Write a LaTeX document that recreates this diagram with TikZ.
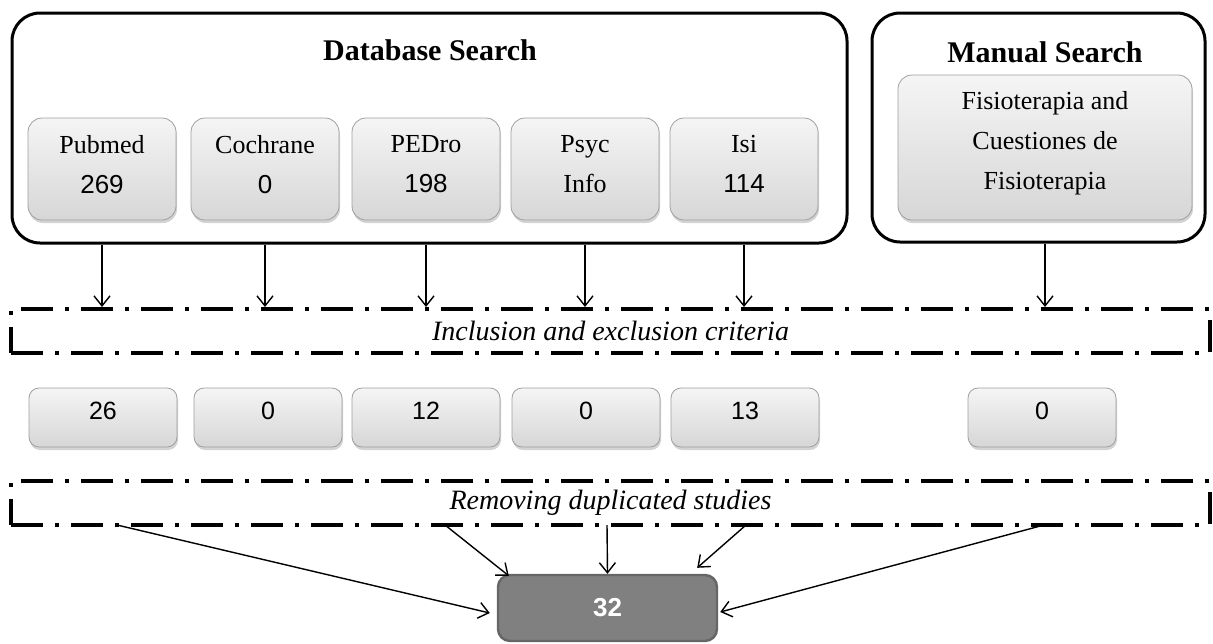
\documentclass[tikz,border=0pt]{standalone}
\usepackage{fontspec}
\setmainfont{Liberation Serif}
\setsansfont{Liberation Sans}
\usetikzlibrary{arrows.meta,shadows}

\begin{document}
\begin{tikzpicture}[x=0.5pt,y=-0.5pt,
srchbox/.style={draw, line width=1.5pt, rounded corners=14pt},
dbbox/.style={draw=gray!75, rounded corners=7pt, top color=gray!8, bottom color=gray!32,
  drop shadow={opacity=0.35,shadow xshift=0.5pt,shadow yshift=-1.5pt},
  minimum width=74pt, align=center, text depth=5pt, font=\fontsize{13}{20}\selectfont},
cntbox/.style={dbbox, rounded corners=5pt, minimum height=29.5pt, text depth=7pt, font=\sffamily\fontsize{12.5}{15}\selectfont},
critbox/.style={draw, line width=2pt, dash pattern=on 16pt off 6pt on 2pt off 6pt,
  minimum width=599.5pt, minimum height=22pt, font=\itshape\fontsize{14}{16}\selectfont},
flow/.style={-{Straight Barb[length=5pt,width=8pt]}, line width=0.7pt}
]
\useasboundingbox (0,0) rectangle (1213,643);

\node[srchbox, minimum width=417.5pt, minimum height=115pt] (db) at (429.5,128) {};
\node[font=\bfseries\fontsize{15}{18}\selectfont] (dbt) at (430,50) {Database Search};
\node[srchbox, minimum width=166.5pt, minimum height=114.5pt] (ms) at (1038.5,127.5) {};
\node[font=\bfseries\fontsize{15}{18}\selectfont] (mst) at (1045,52) {Manual Search};

\foreach \n/\x/\lbl in {pub/102/{Pubmed\\\sffamily 269}, coc/265/{Cochrane\\\sffamily 0}, ped/426/{PEDro\\\sffamily 198}, psy/585/{Psyc\\Info}, isi/744/{Isi\\\sffamily 114}}{
\node[dbbox, minimum height=51pt] (\n) at (\x,169) {\lbl};
}
\node[dbbox, minimum width=147pt, minimum height=72.5pt, text depth=7pt] (fis) at (1045,147.5) {Fisioterapia and\\Cuestiones de\\Fisioterapia};

\node[critbox] (crit) at (610.5,331) {Inclusion and exclusion criteria};

\foreach \n/\b in {pub/db,coc/db,ped/db,psy/db,isi/db,fis/ms}{
\draw[flow] (\n |- \b.south) -- (\n |- crit.north);
}

\foreach \n/\x/\v in {cpub/103/26, ccoc/268/0, cped/426/12, cpsy/586/0, cisi/745/13, cfis/1042/0}{
\node[cntbox] (\n) at (\x,417.5) {\v};
}

\node[critbox] (dup) at (610.5,503) {Removing duplicated studies};

\node[draw=gray!80!black, line width=1.2pt, fill=gray, rounded corners=6pt, minimum width=109.5pt, minimum height=33pt,
  text=white, font=\sffamily\bfseries\fontsize{13}{15}\selectfont] (res) at (607.5,608) {32};

\foreach \n/\x in {s1/117, s2/445, s3/607, s4/746, s5/1044}{
\coordinate (\n) at (\x,525);
}
\draw[flow] (s1) -- ([xshift=-3.5pt,yshift=-2.5pt]res.west);
\draw[flow] (s2) -- ([xshift=6pt,yshift=-1pt]res.north west);
\draw[flow] (s3) -- (res.north);
\draw[flow] (s4) -- ([xshift=-10.5pt,yshift=3pt]res.north east);
\draw[flow] (s5) -- ([xshift=1pt,yshift=-2pt]res.east);

\end{tikzpicture}
\end{document}
